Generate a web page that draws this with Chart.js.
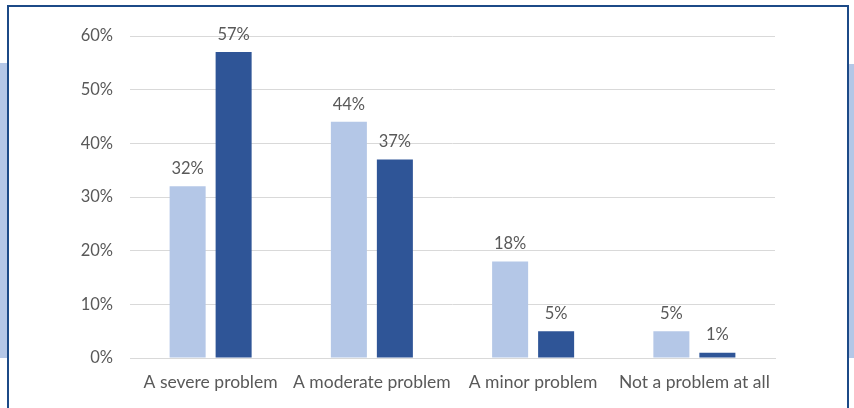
<!DOCTYPE html>
<html>
<head>
<meta charset="utf-8">
<script src="https://cdn.jsdelivr.net/npm/chart.js@4/dist/chart.umd.min.js"></script>
<style>
  html, body { margin: 0; padding: 0; background: #ffffff; }
  #wrap { position: relative; width: 854px; height: 408px; overflow: hidden; background: #ffffff; }
  .band { position: absolute; background: #b4c7e7; }
  #bandL { left: 0; top: 63px; width: 8px; height: 295px; }
  #bandR { right: 0; top: 64px; width: 7px; height: 294px; }
  #frame { position: absolute; left: 7px; top: 5px; width: 838px; height: 420px;
           border: 2px solid #1c4a87; background: #ffffff; }
  #chart { position: absolute; left: 0; top: 0; }
</style>
</head>
<body>
<div id="wrap">
  <div class="band" id="bandL"></div>
  <div class="band" id="bandR"></div>
  <div id="frame"></div>
  <canvas id="chart" width="854" height="408"></canvas>
</div>
<script>
const categories = ['A severe problem', 'A moderate problem', 'A minor problem', 'Not a problem at all'];
const seriesLight = [32, 44, 18, 5];
const seriesDark = [57, 37, 5, 1];
const yTicks = [0, 10, 20, 30, 40, 50, 60];

const FONT = 'Lato';
const TEXT = '#595959';

// Draws the percentage above each bar, positioned from the bar element itself
const valueLabels = {
  id: 'valueLabels',
  afterDatasetsDraw(chart) {
    const ctx = chart.ctx;
    ctx.save();
    ctx.font = '16.5px ' + FONT;
    ctx.fillStyle = TEXT;
    ctx.textAlign = 'center';
    ctx.textBaseline = 'middle';
    chart.data.datasets.forEach((ds, di) => {
      chart.getDatasetMeta(di).data.forEach((bar, i) => {
        ctx.fillText(ds.data[i] + '%', bar.x, bar.y - 17.5);
      });
    });
    ctx.restore();
  }
};

new Chart(document.getElementById('chart'), {
  type: 'bar',
  data: {
    labels: categories,
    datasets: [
      { data: seriesLight, backgroundColor: '#b4c7e7', categoryPercentage: 0.5705, barPercentage: 0.783 },
      { data: seriesDark, backgroundColor: '#2f5597', categoryPercentage: 0.5705, barPercentage: 0.783 }
    ]
  },
  options: {
    responsive: false,
    animation: false,
    devicePixelRatio: 1,
    layout: { padding: { left: 0, right: 79, top: 36, bottom: 0 } },
    plugins: { legend: { display: false }, tooltip: { enabled: false } },
    scales: {
      x: {
        grid: { display: false, drawTicks: false },
        border: { display: true, color: '#d9d9d9', width: 1 },
        ticks: { color: TEXT, font: { family: FONT, size: 17.5 }, padding: 14, maxRotation: 0, autoSkip: false },
        afterFit(s) { s.height = 50; }
      },
      y: {
        min: 0, max: 60,
        afterBuildTicks(s) { s.ticks = yTicks.map(v => ({ value: v })); },
        grid: { color: '#d9d9d9', lineWidth: 1, drawTicks: false },
        border: { display: false },
        ticks: { color: TEXT, font: { family: FONT, size: 16.5 }, padding: 17, callback: v => v + '%' },
        afterFit(s) { s.width = 130; }
      }
    }
  },
  plugins: [valueLabels]
});
</script>
</body>
</html>
